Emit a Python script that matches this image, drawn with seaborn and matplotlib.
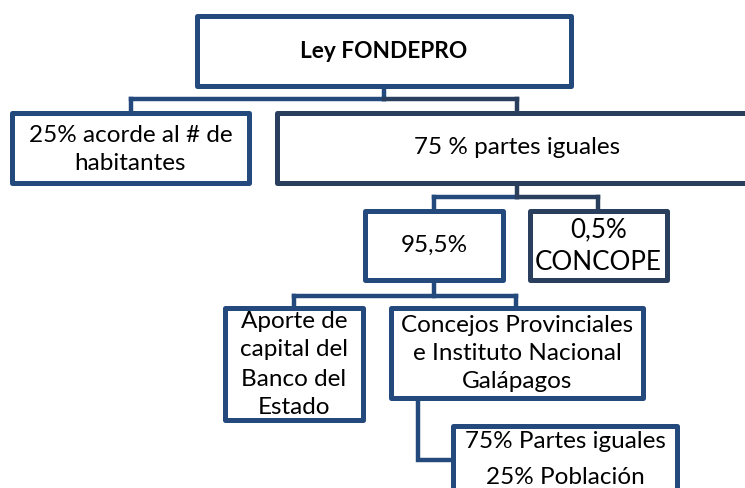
"""Ley FONDEPRO distribution tree drawn on a pixel-scaled seaborn axes."""

import matplotlib.pyplot as plt
from matplotlib.patches import Rectangle
import seaborn as sns

# box labels, one list of lines per box
root_label = ["Ley FONDEPRO"]
level1_labels = [["25% acorde al # de", "habitantes"], ["75 % partes iguales"]]
level2_labels = [["95,5%"], ["0,5%", "CONCOPE"]]
level3_labels = [
    ["Aporte de", "capital del", "Banco del", "Estado"],
    ["Concejos Provinciales", "e Instituto Nacional", "Galápagos"],
]
level4_labels = [["75% Partes iguales", "25% Población"]]

BLUE = "#23497D"
DARK = "#2A3F5E"
W, H = 745, 488

# layout in pixels: lines, (x0, y0, x1, y1), colour, size, weight, first line y, line pitch
boxes = [
    (root_label[0], (197, 16, 571, 86), BLUE, 16.3, "bold", 52, 0),
    (level1_labels[0], (12, 113, 249, 183), BLUE, 17.5, "normal", 135, 28),
    (level1_labels[1], (277, 113, 757, 183), DARK, 17.5, "normal", 148, 0),
    (level2_labels[0], (365, 211, 503, 280), BLUE, 17.5, "normal", 245, 0),
    (level2_labels[1], (530, 211, 667, 280), DARK, 18.7, "normal", 230, 32),
    (level3_labels[0], (225, 308, 363, 420), BLUE, 17.5, "normal", 321, 29),
    (level3_labels[1], (391, 308, 643, 398), BLUE, 17.5, "normal", 325, 28),
    (level4_labels[0], (453, 426, 677, 540), BLUE, 17.5, "normal", 442, 36),
]

connectors = [
    ([384, 384], [86, 99], BLUE),
    ([131, 384], [99, 99], BLUE),
    ([384, 517], [99, 99], DARK),
    ([131, 131], [99, 113], BLUE),
    ([517, 517], [99, 113], DARK),
    ([517, 517], [183, 197], DARK),
    ([434, 517], [197, 197], BLUE),
    ([517, 598], [197, 197], DARK),
    ([434, 434], [197, 211], BLUE),
    ([598, 598], [197, 211], DARK),
    ([434, 434], [280, 296], BLUE),
    ([294, 516], [296, 296], BLUE),
    ([294, 294], [296, 308], BLUE),
    ([516, 516], [296, 308], BLUE),
    ([418, 418, 453], [398, 460, 460], BLUE),
]

sns.set_theme(style="white")
plt.rcParams["font.family"] = ["Lato", "DejaVu Sans"]

fig = plt.figure(figsize=(7.45, 4.88), dpi=100)
ax = fig.add_axes([0, 0, 1, 1])
ax.set_xlim(0, W)
ax.set_ylim(H, 0)
ax.axis("off")

for xs, ys, color in connectors:
    ax.plot(xs, ys, color=color, linewidth=3.2, solid_joinstyle="miter",
            solid_capstyle="projecting", zorder=1)

for lines, (x0, y0, x1, y1), color, size, weight, first_y, pitch in boxes:
    ax.add_patch(Rectangle((x0, y0), x1 - x0, y1 - y0, facecolor="white",
                           edgecolor=color, linewidth=3.6, joinstyle="round", zorder=2))
    cx = (x0 + x1) / 2
    if isinstance(lines, str):
        lines = [lines]
    for i, line in enumerate(lines):
        ax.text(cx, first_y + i * pitch, line, ha="center", va="center",
                fontsize=size, fontweight=weight, color="black", zorder=3)

fig.savefig("out.png", dpi=100)
